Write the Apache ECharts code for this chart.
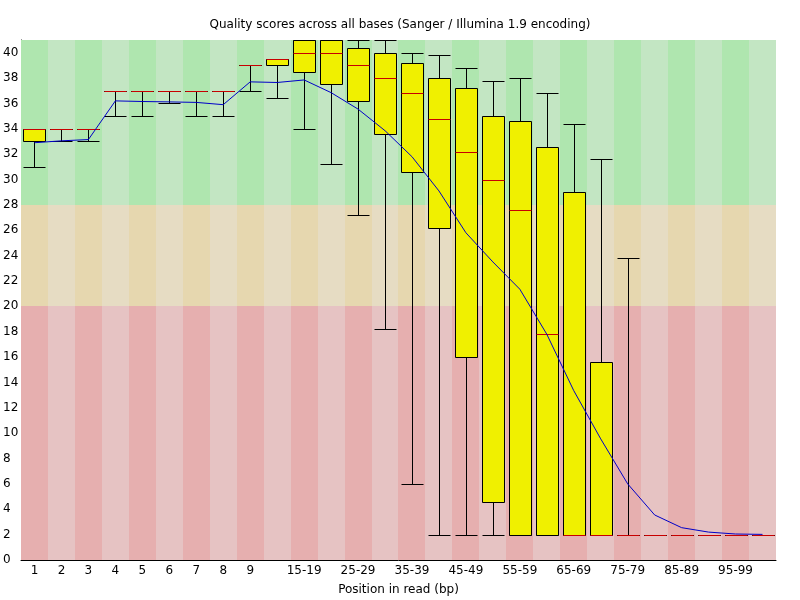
<!DOCTYPE html>
<html>
<head>
    <meta charset="utf-8">
    <script src="https://cdn.jsdelivr.net/npm/echarts@6/dist/echarts.min.js"></script>
</head>
<body style="margin:0">
    <div id="main" style="width:800px;height:600px"></div>

    <script type="text/javascript">
        // position groups along the read
        var categories = ['1','2','3','4','5','6','7','8','9','10-14','15-19','20-24','25-29','30-34',
            '35-39','40-44','45-49','50-54','55-59','60-64','65-69','70-74','75-79','80-84',
            '85-89','90-94','95-99','100-101'];
        // 10th percentile, lower quartile, median, upper quartile, 90th percentile, mean
        var lower  = [31,33,33,35,35,36,35,35,37,36.4,34,31.2,27.2,18.2,6,2,2,2,2,2,2,2,2,2,2,2,2,2];
        var q1     = [33,34,34,37,37,37,37,37,39,39,38.5,37.5,36.2,33.6,30.6,26.2,16,4.6,2,2,2,2,2,2,2,2,2,2];
        var median = [34,34,34,37,37,37,37,37,39,39.5,40,40,39,38,36.8,34.8,32.2,30,27.6,17.8,2,2,2,2,2,2,2,2];
        var q3     = [34,34,34,37,37,37,37,37,39,39.5,41,41,40.4,40,39.2,38,37.2,35,34.6,32.6,29,15.6,2,2,2,2,2,2];
        var upper  = [34,34,34,37,37,37,37,37,39,39.5,41,41,41,41,40,39.8,38.8,37.8,38,36.8,34.4,31.6,23.8,2,2,2,2,2];
        var mean   = [32.9,33.05,33.15,36.2,36.15,36.12,36.08,35.9,37.7,37.65,37.85,36.85,35.55,33.85,
            31.8,29.1,25.8,23.5,21.35,17.8,13.35,9.55,6.0,3.55,2.55,2.2,2.05,2.02];
        // quality bands: bad / reasonable / good
        var bandEdges = [0, 20, 28, 41];
        var bandColors = [['#e6afaf', '#e6c3c3'], ['#e6d7af', '#e6dcc3'], ['#afe6af', '#c3e6c3']];

        var myChart = echarts.init(document.getElementById('main'));

        var bgData = [];
        var boxData = [];
        for (var i = 0; i < categories.length; i++) {
            bgData.push([i, 0]);
            boxData.push([i, lower[i], q1[i], median[i], q3[i], upper[i]]);
        }

        var px = function (v) { return Math.round(v) + 0.5; };

        var renderBands = function (params, api) {
            var idx = api.value(0);
            var w = api.size([1, 0])[0];
            var cx = api.coord([idx, 0])[0];
            var x0 = Math.round(cx - w / 2), x1 = Math.round(cx + w / 2);
            var children = [];
            for (var b = 0; b < 3; b++) {
                var yTop = Math.round(api.coord([idx, bandEdges[b + 1]])[1]);
                var yBot = Math.round(api.coord([idx, bandEdges[b]])[1]);
                children.push({
                    type: 'rect',
                    shape: { x: x0, y: yTop, width: x1 - x0, height: yBot - yTop },
                    style: { fill: bandColors[b][idx % 2] }
                });
            }
            return { type: 'group', children: children };
        };

        var renderBox = function (params, api) {
            var idx = api.value(0);
            var w = api.size([1, 0])[0];
            var cx = px(api.coord([idx, 0])[0]);
            var xl = Math.round(cx - w / 2 + 2) + 0.5;
            var xr = Math.round(cx + w / 2 - 2) - 0.5;
            var yLo = px(api.coord([idx, api.value(1)])[1]);
            var yQ1 = px(api.coord([idx, api.value(2)])[1]);
            var yMed = px(api.coord([idx, api.value(3)])[1]);
            var yQ3 = px(api.coord([idx, api.value(4)])[1]);
            var yHi = px(api.coord([idx, api.value(5)])[1]);
            var black = { stroke: '#000', lineWidth: 1 };
            return {
                type: 'group',
                children: [
                    { type: 'line', shape: { x1: cx, y1: yLo, x2: cx, y2: yHi }, style: black },
                    { type: 'line', shape: { x1: xl, y1: yLo, x2: xr, y2: yLo }, style: black },
                    { type: 'line', shape: { x1: xl, y1: yHi, x2: xr, y2: yHi }, style: black },
                    { type: 'rect', shape: { x: xl, y: yQ3, width: xr - xl, height: yQ1 - yQ3 },
                      style: { fill: '#f0f000', stroke: '#000', lineWidth: 1 } },
                    { type: 'line', shape: { x1: xl, y1: yMed, x2: xr, y2: yMed },
                      style: { stroke: '#c80000', lineWidth: 1 } }
                ]
            };
        };

        var option = {
            animation: false,
            textStyle: { fontFamily: 'DejaVu Sans' },
            title: {
                text: 'Quality scores across all bases (Sanger / Illumina 1.9 encoding)',
                left: 'center',
                top: 14,
                textStyle: { fontSize: 12, fontWeight: 'normal', color: '#000', fontFamily: 'DejaVu Sans' }
            },
            grid: { left: 21, right: 24, top: 40, bottom: 40, outerBoundsMode: 'none', containLabel: false },
            xAxis: {
                type: 'category',
                data: categories,
                name: 'Position in read (bp)',
                nameLocation: 'middle',
                nameGap: 24,
                nameTextStyle: { fontSize: 12, color: '#000' },
                axisLine: { lineStyle: { color: '#000', width: 1 } },
                axisTick: { show: false },
                axisLabel: {
                    color: '#000',
                    fontSize: 12,
                    margin: 5,
                    interval: function (index) { return index < 9 || index % 2 === 0; }
                },
                splitLine: { show: false }
            },
            yAxis: {
                type: 'value',
                min: 0,
                max: 41,
                interval: 2,
                axisLine: { show: true, lineStyle: { color: '#000', width: 1 } },
                axisTick: { show: false },
                axisLabel: { color: '#000', fontSize: 12, align: 'left', margin: 18, showMaxLabel: false },
                splitLine: { show: false }
            },
            series: [{
                type: 'custom',
                renderItem: renderBands,
                data: bgData,
                encode: { x: 0, y: 1 },
                silent: true,
                z: 1
            }, {
                type: 'custom',
                renderItem: renderBox,
                data: boxData,
                encode: { x: 0, y: [1, 2, 3, 4, 5] },
                z: 2
            }, {
                name: 'Mean',
                type: 'line',
                data: mean,
                symbol: 'none',
                lineStyle: { color: '#0000c8', width: 1 },
                z: 3
            }]
        };

        myChart.setOption(option);
    </script>
</body>
</html>
